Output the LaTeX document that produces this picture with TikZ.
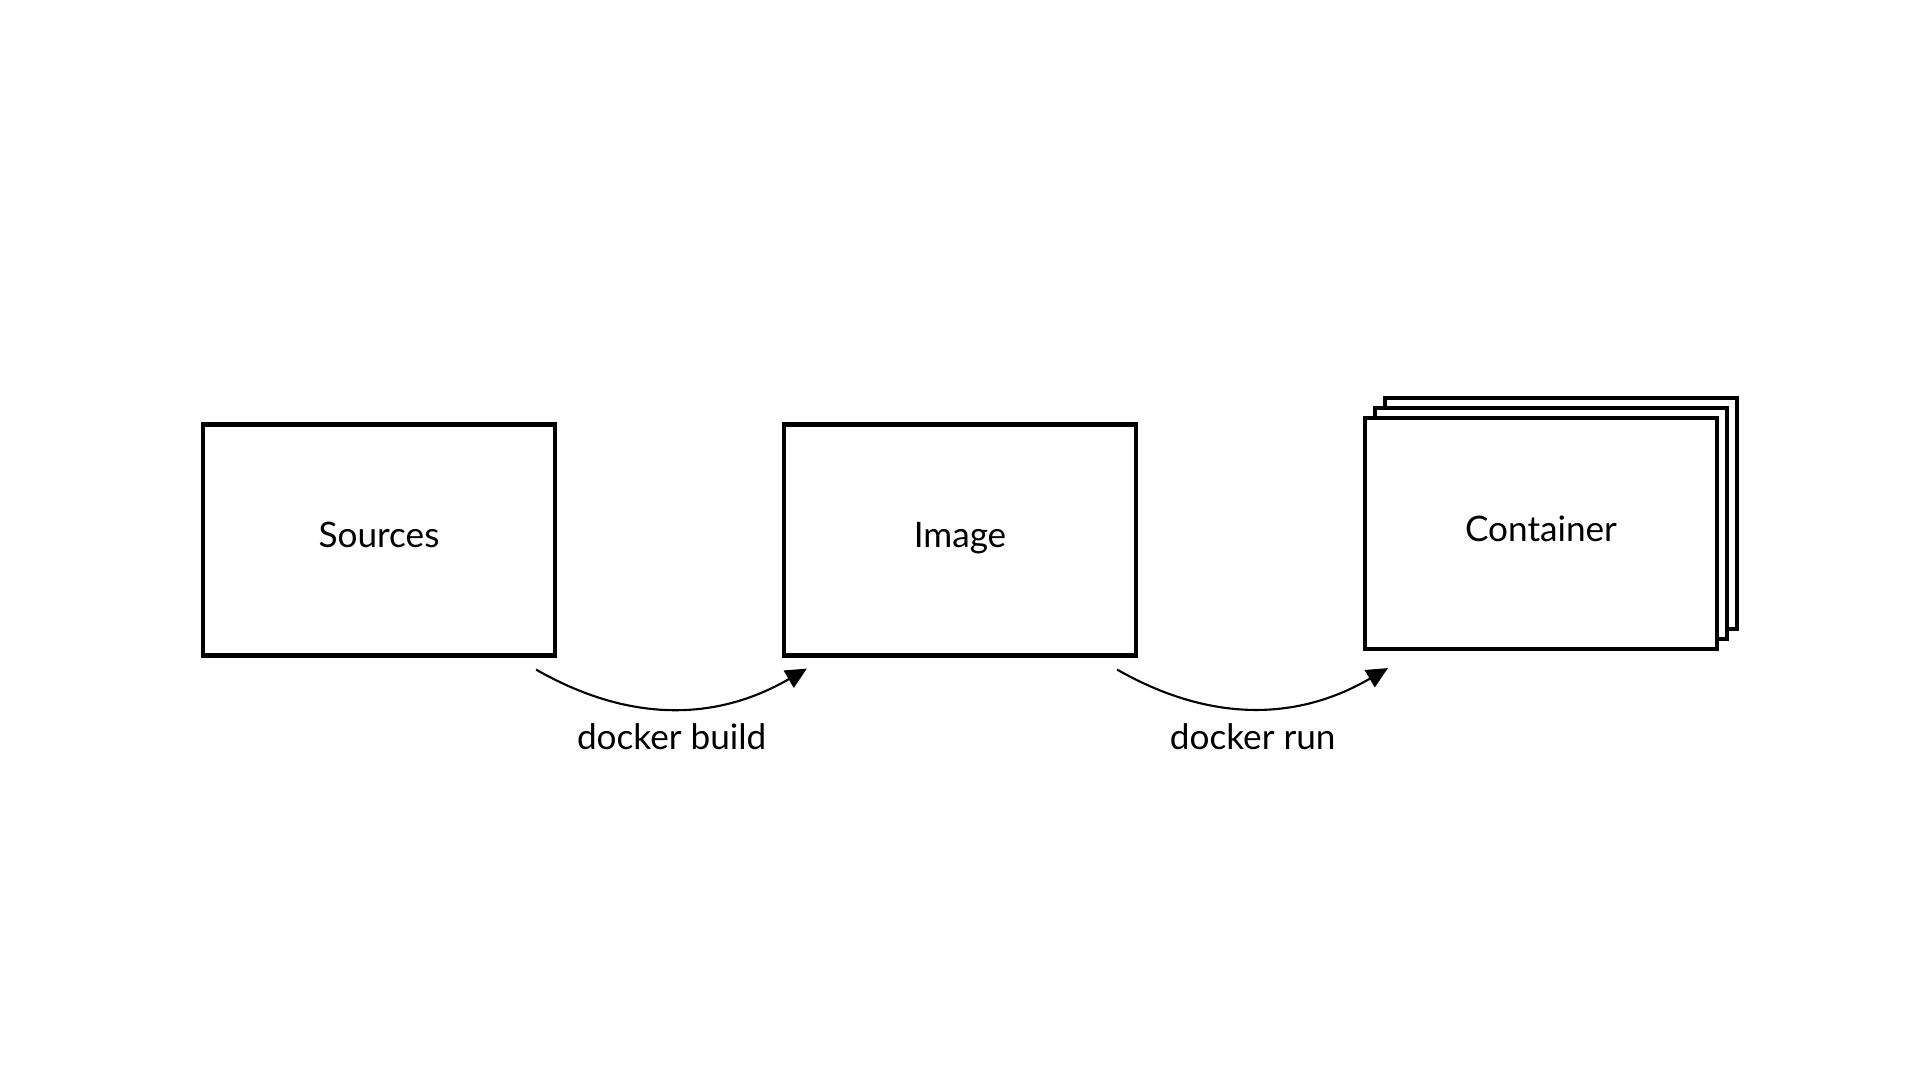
\documentclass[tikz,border=0pt]{standalone}
\usepackage{fontspec}
\setmainfont{Lato}
\usetikzlibrary{arrows.meta}

\begin{document}
\begin{tikzpicture}[
		box/.style={draw, line width=1.2pt, fill=white, minimum width=3.52cm, minimum height=2.31cm, inner sep=0pt, text height=7.5pt, text depth=3pt},
		cmd/.style={line width=0.6pt, -{Triangle[length=6pt, width=5.6pt]}},
		every node/.style={font=\fontsize{10}{12}\selectfont}
	]
		\useasboundingbox (0,0) rectangle (19.2,10.8);
		
		%boxes
		\node[box] (src) at (3.79, 5.40){Sources};
		\node[box] (img) at (9.60, 5.40){Image};
		
		%stack of containers
		\node[box] (cont3) at (15.61, 5.665){};
		\node[box] (cont2) at (15.51, 5.565){};
		\node[box] (cont) at (15.41, 5.465){Container};
		
		%commands
		\draw[cmd] ([shift={(-0.21,-0.12)}]src.south east) to[bend right=30]
			node[below=0.5pt] (build) {docker build}
			([shift={(0.25,-0.11)}]img.south west);
		\draw[cmd] ([shift={(-0.21,-0.12)}]img.south east) to[bend right=30]
			node[below=0.5pt] (run) {docker run}
			([shift={(0.25,-0.17)}]cont.south west);
\end{tikzpicture}
\end{document}
